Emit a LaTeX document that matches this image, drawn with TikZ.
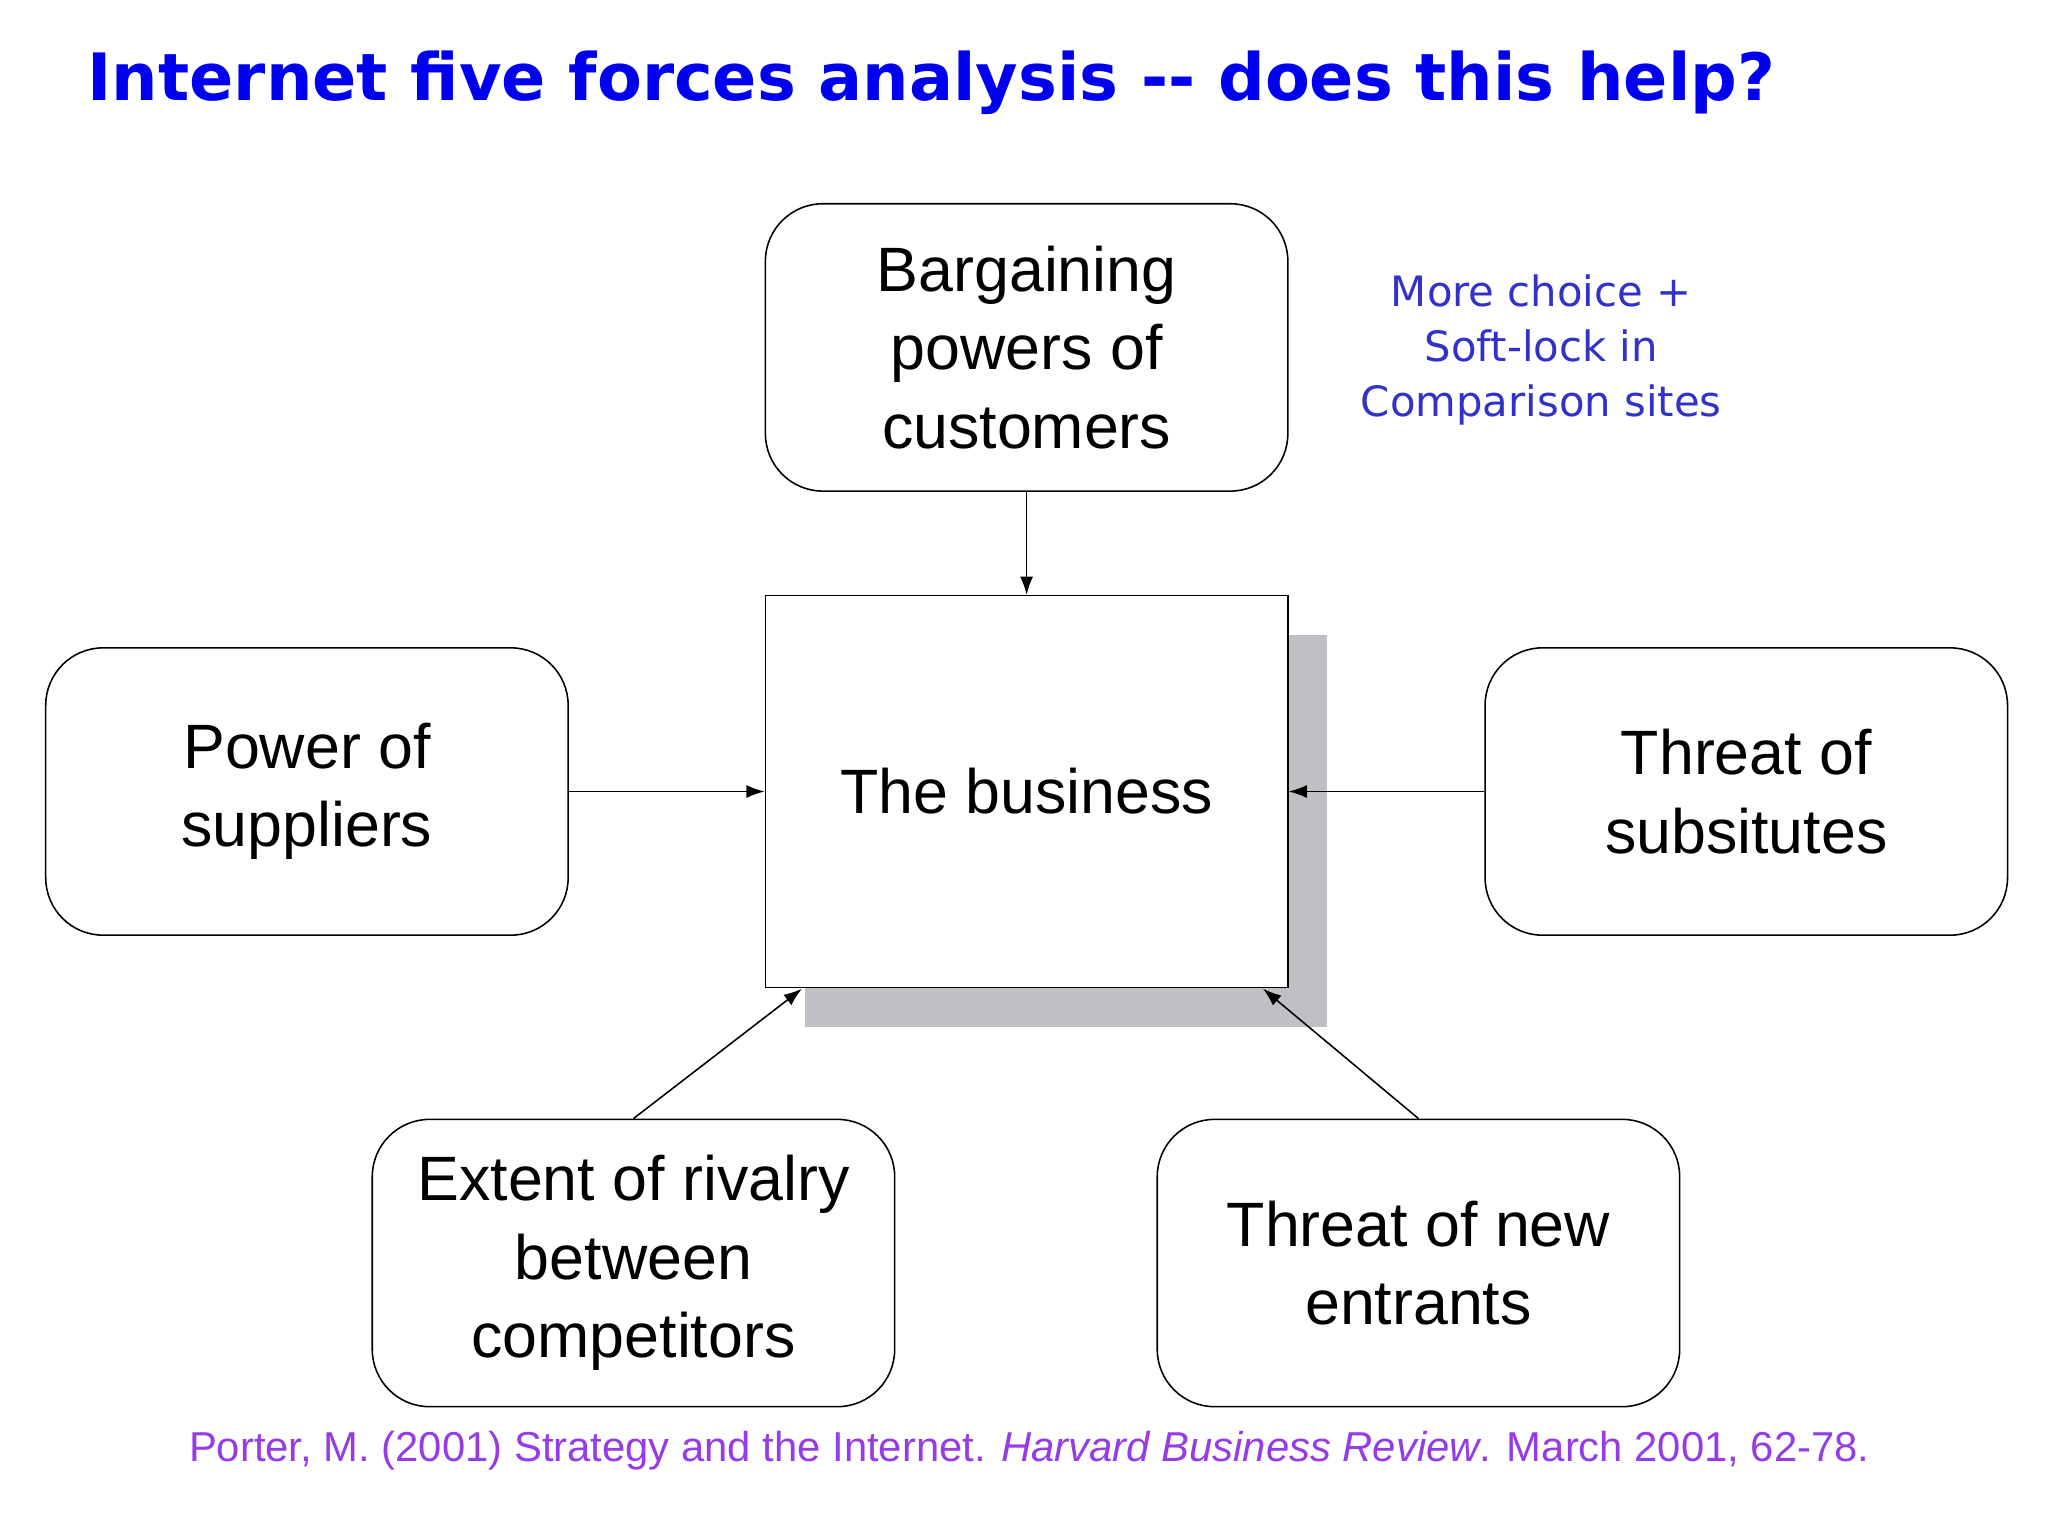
\documentclass[tikz,border=0pt]{standalone}
\usepackage{fontspec}
\setmainfont{Liberation Sans}
\newfontfamily\verd{DejaVu Sans}
\usetikzlibrary{arrows.meta}
\definecolor{ttl}{RGB}{0,0,240}
\definecolor{ann}{RGB}{50,50,200}
\definecolor{cit}{RGB}{150,60,230}
\definecolor{shad}{RGB}{192,191,195}
\begin{document}
\begin{tikzpicture}[x=0.5pt,y=-0.5pt,
  force/.style={draw,rounded corners=22pt,line width=0.6pt,minimum width=200pt,minimum height=110pt,align=center,font=\fontsize{24}{30}\selectfont,inner sep=0pt},
  arr/.style={-{Latex[length=7pt,width=5pt]},line width=0.6pt}]
\useasboundingbox (0,0) rectangle (1568,1176);
\fill[white] (0,0) rectangle (1568,1176);
\node[anchor=west,text=ttl,font=\verd\bfseries\fontsize{25}{30}\selectfont] (title) at (60,63) {Internet five forces analysis -- does this help?};
\fill[shad] (616,486) rectangle (1016,786);
\node[draw,fill=white,line width=0.6pt,minimum width=200pt,minimum height=150pt,inner sep=0pt,font=\fontsize{24}{30}\selectfont] (bus) at (786,606) {The business};
\node[force] (cus) at (786,266) {Bargaining\\powers of\\customers};
\node[force] (sup) at (235,606) {Power of\\suppliers};
\node[force] (sub) at (1337,606) {Threat of\\subsitutes};
\node[force] (riv) at (485,967) {Extent of rivalry\\between\\competitors};
\node[force] (ent) at (1086,967) {Threat of new\\entrants};
\node[text=ann,align=center,font=\verd\fontsize{16}{21}\selectfont] (note) at (1180,268) {More choice +\\Soft-lock in\\Comparison sites};
\node[text=cit,font=\fontsize{16}{20}\selectfont] (cite) at (788,1111) {Porter, M. (2001) Strategy and the Internet. \textit{Harvard Business Review}. March 2001, 62-78.};
\draw[arr] (cus.south) -- (bus.north);
\draw[arr] (sup.east) -- (bus.west);
\draw[arr] (sub.west) -- (bus.east);
\coordinate (bl) at (614,757);
\coordinate (br) at (967,757);
\draw[arr] (riv.north) -- (bl);
\draw[arr] (ent.north) -- (br);
\end{tikzpicture}
\end{document}
